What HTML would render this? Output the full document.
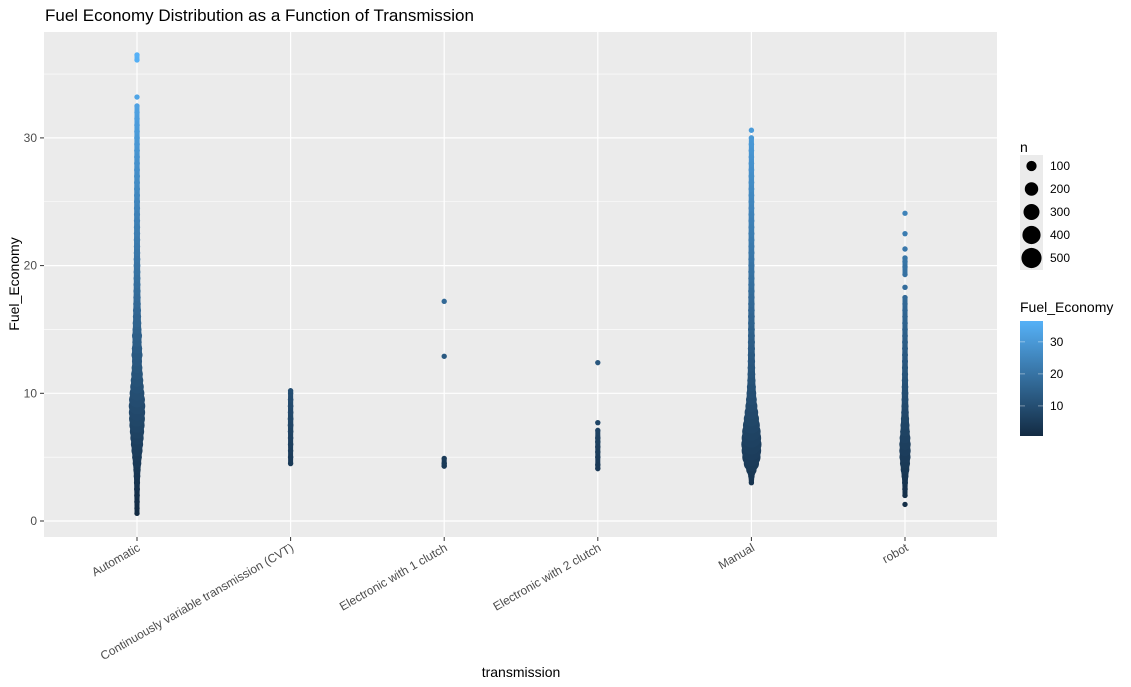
<!DOCTYPE html>
<html><head><meta charset="utf-8"><style>
body{margin:0;background:#fff;}
svg{display:block;font-family:"Liberation Sans",sans-serif;}
</style></head><body>
<svg id="chart" width="1131" height="687" viewBox="0 0 1131 687">
<text x="45" y="21" font-size="17" fill="#000">Fuel Economy Distribution as a Function of Transmission</text>
<rect x="44" y="32" width="953" height="505" fill="#ebebeb"/>
<g id="grid"></g>
<g id="points"></g>
<g id="axes"></g>
<text x="521" y="677" font-size="14" text-anchor="middle">transmission</text>
<text transform="translate(19,284) rotate(-90)" font-size="14" text-anchor="middle">Fuel_Economy</text>
<g id="legend"></g>
</svg>
<script>
const categories=["Automatic","Continuously variable transmission (CVT)","Electronic with 1 clutch","Electronic with 2 clutch","Manual","robot"];
const yTicks=[0,10,20,30];
const autoVals=[0.6,1,1.5,2,2.5,3,3.5,4,4.5,5,5.5,6,6.5,7,7.5,8,8.5,9,9.5,10,10.5,11,11.5,12,12.5,13,13.5,14,14.5,15,15.5,16,16.5,17,17.5,18,18.5,19,19.5,20,20.5,21,21.5,22,22.5,23,23.5,24,24.5,25,25.5,26,26.5,27,27.5,28,28.5,29,29.5,30,30.5,31,31.5,32,32.5,33.2,36.1,36.5];
const autoN=[1,2,4,6,10,15,25,40,70,100,140,180,220,260,300,330,350,360,330,280,230,190,160,130,110,140,120,90,110,80,70,60,55,45,40,35,32,30,28,26,25,22,20,20,18,18,16,15,15,14,12,12,10,10,9,8,8,7,6,6,5,4,3,2,1,1,1,1];
const cvtVals=[4.5,5,5.5,6,6.5,7,7.5,8,8.5,9,9.5,10,10.2];
const cvtN=[2,3,2,4,4,6,8,8,6,6,5,3,2];
const e1Vals=[4.3,4.5,4.9,12.9,17.2];
const e1N=[3,3,1,1,1];
const e2Vals=[4.1,4.4,5.0,5.4,5.8,6.2,6.5,7.1,7.7,12.4];
const e2N=[2,2,2,2,3,3,3,1,2,1];
const manVals=[3,3.5,4,4.5,5,5.5,6,6.5,7,7.5,8,8.5,9,9.5,10,10.5,11,11.5,12,12.5,13,13.5,14,14.5,15,15.5,16,16.5,17,17.5,18,18.5,19,19.5,20,20.5,21,21.5,22,22.5,23,23.5,24,24.5,25,25.5,26,26.5,27,27.5,28,28.5,29,29.5,30,30.6];
const manN=[1,20,120,300,450,520,560,520,460,380,300,230,170,130,100,80,60,50,45,40,38,35,33,30,28,26,25,24,22,20,20,18,18,17,16,15,15,14,14,13,12,12,11,10,10,9,9,8,8,7,6,5,5,4,3,2];
const robVals=[1.3,2,2.5,3,3.5,4,4.5,5,5.5,6,6.5,7,7.5,8,8.5,9,9.5,10,10.5,11,11.5,12,12.5,13,13.5,14,14.5,15,15.5,16,16.5,17,17.5,18.3,19.3,19.9,20.3,20.6,21.3,22.5,24.1];
const robN=[1,2,4,10,30,70,110,140,150,150,130,100,80,60,45,35,30,28,24,20,16,14,12,10,9,8,6,5,4,3,3,2,2,3,1,2,2,2,2,1,1];
const legendN=[100,200,300,400,500];
const colorTicks=[10,20,30];

const series=[[autoVals,autoN],[cvtVals,cvtN],[e1Vals,e1N],[e2Vals,e2N],[manVals,manN],[robVals,robN]];
const NS="http://www.w3.org/2000/svg";
const xS=i=>137+i*153.6;
const yS=v=>521-v*12.77;
const rS=n=>Math.sqrt(7+0.17*n);
const cMin=0.6,cMax=36.5;
function col(v){const t=Math.max(0,Math.min(1,(v-cMin)/(cMax-cMin)));
 const a=[19,43,67],b=[86,177,247];
 return `rgb(${a.map((x,i)=>Math.round(x+(b[i]-x)*t)).join(",")})`;}
function mk(tag,attrs,parent){const e=document.createElementNS(NS,tag);for(const k in attrs)e.setAttribute(k,attrs[k]);parent.appendChild(e);return e;}
const grid=document.getElementById('grid');
[5,15,25,35].forEach(v=>{const l=mk('line',{x1:44,x2:997,y1:yS(v),y2:yS(v),stroke:'#fff','stroke-width':0.6},grid);
 
 });
yTicks.forEach(v=>{const l=mk('line',{x1:44,x2:997,y1:yS(v),y2:yS(v),stroke:'#fff','stroke-width':1.2},grid);
 
 });
categories.forEach((c,i)=>{const l=mk('line',{x1:xS(i),x2:xS(i),y1:32,y2:537,stroke:'#fff','stroke-width':1.2},grid);
 
 });
const pts=document.getElementById('points');
series.forEach((s,i)=>{const x=xS(i);const vs=s[0],ns=s[1];
 // fill between close neighbours so dense columns look continuous
 for(let j=0;j<vs.length-1;j++){
  if(vs[j+1]-vs[j]<=0.6){
   const r1=rS(ns[j])*0.92,r2=rS(ns[j+1])*0.92,y1=yS(vs[j]),y2=yS(vs[j+1]);
   const p=mk('polygon',{points:`${x-r1},${y1} ${x+r1},${y1} ${x+r2},${y2} ${x-r2},${y2}`,fill:col((vs[j]+vs[j+1])/2)},pts);
   
   
  }}
 vs.forEach((v,j)=>{const c=mk('circle',{cx:x,cy:yS(v),r:rS(ns[j]),fill:col(v)},pts);
 
 });});
const ax=document.getElementById('axes');
yTicks.forEach(v=>{const t=mk('text',{x:37,y:yS(v)+4,'font-size':12,'text-anchor':'end',fill:'#4d4d4d'},ax);t.textContent=v;
 
 
 const k=mk('line',{x1:40,x2:44,y1:yS(v),y2:yS(v),stroke:'#333'},ax);
 
 });
categories.forEach((c,i)=>{const x=xS(i);
 const k=mk('line',{x1:x,x2:x,y1:537,y2:541,stroke:'#333'},ax);
 
 
 const t=mk('text',{transform:`translate(${x+4},${550}) rotate(-30)`,'font-size':12,'text-anchor':'end',fill:'#4d4d4d'},ax);t.textContent=c;
 
 });
const lg=document.getElementById('legend');
let t=mk('text',{x:1020,y:152,'font-size':14},lg);t.textContent='n';


let bg=mk('rect',{x:1020,y:155,width:23,height:115,fill:'#ebebeb'},lg);


legendN.forEach((n,i)=>{const y=166+i*23;
 const c=mk('circle',{cx:1031.5,cy:y,r:rS(n)*1.05,fill:'#000'},lg);
 
 
 const tx=mk('text',{x:1050,y:y+4,'font-size':12},lg);tx.textContent=n;
 
 });
t=mk('text',{x:1020,y:312,'font-size':14},lg);t.textContent='Fuel_Economy';


const defs=mk('defs',{},lg);const gr=mk('linearGradient',{id:'cb',x1:0,y1:1,x2:0,y2:0},defs);
mk('stop',{offset:0,'stop-color':col(cMin)},gr);mk('stop',{offset:1,'stop-color':col(cMax)},gr);
const cbY=v=>436-(v-cMin)/(cMax-cMin)*115;
const cb=mk('rect',{x:1020,y:321,width:23,height:115,fill:'url(#cb)'},lg);


colorTicks.forEach(v=>{const y=cbY(v);
 mk('line',{x1:1020,x2:1025,y1:y,y2:y,stroke:'#fff','stroke-opacity':0.4},lg);
 mk('line',{x1:1038,x2:1043,y1:y,y2:y,stroke:'#fff','stroke-opacity':0.4},lg);
 const tx=mk('text',{x:1050,y:y+4,'font-size':12},lg);tx.textContent=v;
 
 });
</script>
</body></html>
